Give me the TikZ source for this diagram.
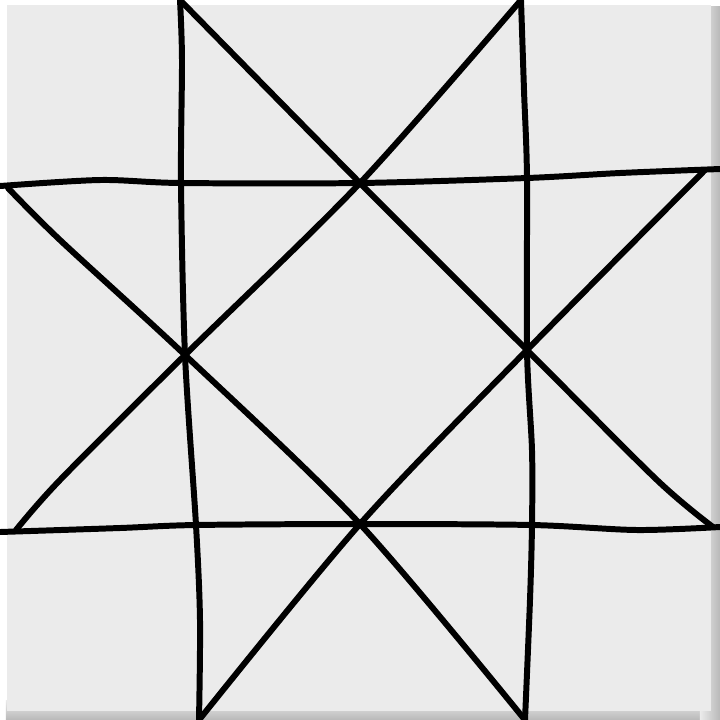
\documentclass[tikz,border=0pt]{standalone}
\usepackage{tikz}

\definecolor{canvas}{HTML}{EBEBEB}
\definecolor{rim}{HTML}{B8B8B8}

\begin{document}
\begin{tikzpicture}[x=0.01cm, y=-0.01cm, ink/.style={line width=1.7pt, line cap=round, line join=round}]
		\useasboundingbox (0,0) rectangle (720,720);
		\fill [white] (0,0) rectangle (720,720);
		\shade [top color=canvas, bottom color=rim] (6,700) rectangle (720,720);
		\shade [left color=canvas, right color=rim] (700,6) rectangle (720,720);
		\fill [canvas] (7,5) rectangle (711,711);
		% crossings of the star
		\coordinate (top) at (360,183);
		\coordinate (bot) at (360,524);
		\coordinate (lft) at (185,355);
		\coordinate (rgt) at (527,350);
		\coordinate (tl) at (181,183);
		\coordinate (tr) at (527,178);
		\coordinate (bl) at (196,525);
		\coordinate (br) at (532,525);
		% free ends
		\coordinate (v1a) at (180,0);   \coordinate (v1b) at (199,720);
		\coordinate (v2a) at (521,0);   \coordinate (v2b) at (525,720);
		\coordinate (h1a) at (0,186);   \coordinate (h1b) at (720,169);
		\coordinate (h2a) at (0,532);   \coordinate (h2b) at (720,527);
		\coordinate (d3a) at (8,188);   \coordinate (d4a) at (705,170);
		\coordinate (d1b) at (713,527); \coordinate (d2b) at (16,530);
		% grid lines
		\draw [ink] plot [smooth] coordinates {(v1a) (182,60) (tl) (lft) (bl) (200,620) (v1b)};
		\draw [ink] plot [smooth] coordinates {(v2a) (524,90) (tr) (rgt) (532,450) (br) (530,600) (v2b)};
		\draw [ink] plot [smooth] coordinates {(h1a) (100,180) (tl) (top) (tr) (620,173) (h1b)};
		\draw [ink] plot [smooth] coordinates {(h2a) (120,528) (bl) (bot) (br) (637,530) (h2b)};
		% diagonals
		\draw [ink] plot [smooth] coordinates {(v1a) (top) (rgt) (657,480) (d1b)};
		\draw [ink] plot [smooth] coordinates {(v2a) (top) (lft) (60,480) (d2b)};
		\draw [ink] plot [smooth] coordinates {(d3a) (60,240) (lft) (bot) (v2b)};
		\draw [ink] plot [smooth] coordinates {(d4a) (rgt) (bot) (v1b)};
\end{tikzpicture}
\end{document}
